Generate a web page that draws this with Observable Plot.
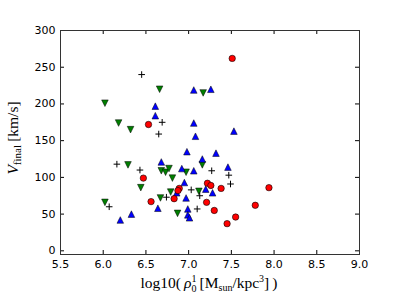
<!DOCTYPE html>
<html>
<head>
<meta charset="utf-8">
<script src="https://cdn.jsdelivr.net/npm/d3@7"></script>
<script src="https://cdn.jsdelivr.net/npm/@observablehq/plot@0.6"></script>
<style>
  html, body { margin: 0; padding: 0; background: #fff; }
  svg { display: block; }
</style>
</head>
<body>
<div id="chart"></div>
<script>
// ---- data ----
const redX   = [6.53, 7.51, 6.47, 6.56, 6.89, 6.875, 6.83, 7.22, 7.26, 7.38, 7.21, 7.30, 7.55, 7.45, 7.94, 7.78];
const redY   = [172, 262, 99, 67, 85, 82, 71, 92, 89, 85, 66, 55, 46, 37, 86, 62];

const blueX  = [7.06, 7.26, 7.53, 6.61, 6.61, 7.06, 7.08, 6.98, 7.16, 7.32, 7.46, 6.68, 6.92, 7.06, 6.95, 7.20, 7.28, 6.86, 6.97, 6.64, 6.20, 6.33, 6.99, 6.99, 7.01];
const blueY  = [219, 220, 163, 197, 184, 174, 156, 135, 125, 133, 114, 121, 112, 109, 93, 84, 79, 79, 72, 58, 42, 50, 57, 49, 45];

const greenX = [6.02, 6.66, 7.17, 6.18, 6.32, 6.29, 6.44, 6.02, 6.67, 6.79, 6.87, 7.16, 6.68, 6.73, 6.77, 6.81, 6.97, 7.12];
const greenY = [201, 220, 215, 174, 165, 117, 86, 66, 72, 80, 51, 117, 109, 107, 112, 99, 107, 81];

const plusX  = [6.45, 6.69, 6.65, 6.16, 6.43, 6.07, 6.74, 7.27, 7.47, 7.49, 7.03, 7.13, 7.10];
const plusY  = [240, 175, 159, 118, 110, 60, 73, 109, 103, 91, 83, 75, 57];

const xTicks = [5.5, 6.0, 6.5, 7.0, 7.5, 8.0, 8.5, 9.0];
const yTicks = [0, 50, 100, 150, 200, 250, 300];

// ---- helpers ----
const zip = (xs, ys) => xs.map((x, i) => ({x, y: ys[i]}));
const red = zip(redX, redY), blue = zip(blueX, blueY), green = zip(greenX, greenY), plus = zip(plusX, plusY);

const triUp = {draw(ctx, size) { const r = Math.sqrt(size / Math.PI); ctx.moveTo(0, -r); ctx.lineTo(r, r); ctx.lineTo(-r, r); ctx.closePath(); }};
const triDown = {draw(ctx, size) { const r = Math.sqrt(size / Math.PI); ctx.moveTo(0, r); ctx.lineTo(r, -r); ctx.lineTo(-r, -r); ctx.closePath(); }};
const plusSym = {draw(ctx, size) { const r = Math.sqrt(size / Math.PI); ctx.moveTo(-r, 0); ctx.lineTo(r, 0); ctx.moveTo(0, -r); ctx.lineTo(0, r); }};

const W = 399, H = 299, mL = 60, mR = 40, mT = 30, mB = 45;
const iW = W - mL - mR, iH = H - mT - mB;
const tick = 4;

const chart = Plot.plot({
  width: W, height: H,
  marginLeft: mL, marginRight: mR, marginTop: mT, marginBottom: mB,
  style: {fontFamily: "DejaVu Sans", fontSize: "11px", background: "white", color: "black"},
  x: {domain: [5.5, 9.0]},
  y: {domain: [-5, 300]},
  marks: [
    Plot.axisX({ticks: xTicks, tickSize: 0, tickPadding: 6, tickFormat: d3.format(".1f"), label: null, fontSize: 11}),
    Plot.axisY({ticks: yTicks, tickSize: 0, tickPadding: 5, tickFormat: d3.format("d"), label: null, fontSize: 11}),
    Plot.tickX(xTicks, {x: d => d, insetTop: iH - tick, stroke: "black"}),
    Plot.tickX(xTicks, {x: d => d, insetBottom: iH - tick, stroke: "black"}),
    Plot.tickY(yTicks, {y: d => d, insetRight: iW - tick, stroke: "black"}),
    Plot.tickY(yTicks, {y: d => d, insetLeft: iW - tick, stroke: "black"}),
    Plot.dot(green, {x: "x", y: "y", symbol: triDown, r: 3.3, fill: "#007f00", stroke: "black", strokeWidth: 0.5}),
    Plot.dot(blue, {x: "x", y: "y", symbol: triUp, r: 3.3, fill: "#0000ff", stroke: "black", strokeWidth: 0.5}),
    Plot.dot(red, {x: "x", y: "y", symbol: "circle", r: 3.2, fill: "#ff0000", stroke: "black", strokeWidth: 0.6}),
    Plot.dot(plus, {x: "x", y: "y", symbol: plusSym, r: 3.3, fill: "none", stroke: "black", strokeWidth: 1}),
    Plot.frame({stroke: "#333", strokeWidth: 1})
  ]
});

const svg = d3.select(chart);
// y label: V_final [km/s]
const yl = svg.append("text")
  .attr("transform", "translate(18,138) rotate(-90)")
  .attr("text-anchor", "middle")
  .attr("font-family", "Liberation Serif, serif")
  .attr("font-size", 15.5)
  .attr("fill", "black");
yl.append("tspan").attr("font-style", "italic").text("V");
yl.append("tspan").attr("font-size", 11).attr("dy", 3).text("final");
yl.append("tspan").attr("dy", -3).text("\u2009[km/s]");

// x label: log10( rho_0^1 [M_sun/kpc^3] )
const xl = svg.append("text")
  .attr("x", 209).attr("y", 288)
  .attr("text-anchor", "middle")
  .attr("font-family", "Liberation Serif, serif")
  .attr("font-size", 15.5)
  .attr("fill", "black");
xl.append("tspan").text("log10(\u2009");
xl.append("tspan").attr("font-style", "italic").text("\u03c1");
xl.append("tspan").attr("font-size", 10).attr("dy", -6).text("1");
xl.append("tspan").attr("font-size", 10).attr("dx", -5).attr("dy", 10).text("0");
xl.append("tspan").attr("dy", -4).text("\u2009[M");
xl.append("tspan").attr("font-size", 10).attr("dy", 3).text("sun");
xl.append("tspan").attr("dy", -3).text("/kpc");
xl.append("tspan").attr("font-size", 10).attr("dy", -6).text("3");
xl.append("tspan").attr("dy", 6).text("]\u2009)");

document.getElementById("chart").appendChild(chart);
</script>
</body>
</html>
